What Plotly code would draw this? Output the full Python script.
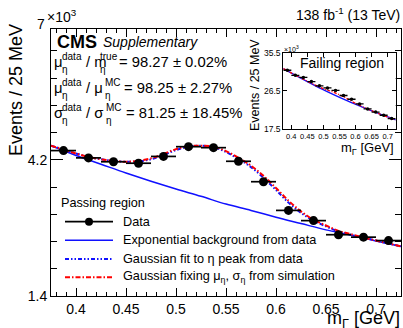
import plotly.graph_objects as go

# ---- data (event counts in units of 10^3 per 25 MeV bin) ----
bin_centers = [0.3875, 0.4125, 0.4375, 0.4625, 0.4875, 0.5125, 0.5375,
               0.5625, 0.5875, 0.6125, 0.6375, 0.6625, 0.6875, 0.7125]
half_width = [0.0125] * len(bin_centers)

passing_counts = [4.39, 4.24, 4.16, 4.13, 4.27, 4.47, 4.45,
                  4.17, 3.75, 3.16, 2.95, 2.66, 2.61, 2.54]
failing_counts = [31.4, 30.2, 29.7, 28.7, 27.7, 27.2, 26.6,
                  25.4, 24.5, 23.4, 22.2, 21.45, 20.7, 19.9]

# fitted curves, passing region
bkg_x = [0.375, 0.400, 0.425, 0.450, 0.475, 0.500, 0.525, 0.550,
         0.575, 0.600, 0.625, 0.650, 0.675, 0.700, 0.725]
bkg_y = [4.49, 4.29, 4.11, 3.93, 3.76, 3.60, 3.45, 3.29,
         3.16, 3.02, 2.89, 2.76, 2.65, 2.53, 2.42]

sig_x = [0.375, 0.3875, 0.400, 0.4125, 0.425, 0.4375, 0.450, 0.4625,
         0.475, 0.4875, 0.500, 0.5125, 0.525, 0.5375, 0.550, 0.5625,
         0.575, 0.5875, 0.600, 0.6125, 0.625, 0.6375, 0.650, 0.6625,
         0.675, 0.6875, 0.700, 0.7125, 0.725]
fit_free_y = [4.49, 4.41, 4.33, 4.26, 4.21, 4.18, 4.16, 4.17,
              4.21, 4.30, 4.40, 4.47, 4.49, 4.46, 4.36, 4.22,
              4.05, 3.83, 3.58, 3.32, 3.11, 2.95, 2.83, 2.73,
              2.66, 2.60, 2.54, 2.48, 2.42]
fit_fixed_y = [4.49, 4.41, 4.33, 4.26, 4.21, 4.18, 4.16, 4.18,
               4.23, 4.32, 4.42, 4.48, 4.49, 4.47, 4.38, 4.24,
               4.08, 3.87, 3.62, 3.36, 3.14, 2.97, 2.85, 2.74,
               2.67, 2.60, 2.54, 2.48, 2.42]

# fitted curves, failing region
fail_bkg_x = [0.375, 0.425, 0.475, 0.525, 0.575, 0.625, 0.675, 0.725]
fail_bkg_y = [31.8, 29.7, 27.7, 25.85, 24.1, 22.5, 21.0, 19.6]
fail_sig_x = [0.375, 0.425, 0.475, 0.500, 0.525, 0.550, 0.575, 0.600,
              0.625, 0.675, 0.725]
fail_sig_y = [31.8, 29.75, 27.85, 27.0, 26.35, 25.55, 24.6, 23.5,
              22.6, 21.0, 19.6]

x_ticks = [0.4, 0.45, 0.5, 0.55, 0.6, 0.65, 0.7]
y_ticks = [1.4, 4.2]
y_top_label = "7"
inset_x_ticks = [0.4, 0.45, 0.5, 0.55, 0.6, 0.65, 0.7]
inset_y_ticks = [17.5, 26.5, 35.5]

legend_title = "Passing region"
legend_names = ["Data", "Exponential background from data",
                "Gaussian fit to η peak from data",
                "Gaussian fixing μ<sub>η</sub>, σ<sub>η</sub> from simulation"]

# ---- geometry ----
W, H = 403, 328
ML, MR, MT, MB = 51, 2, 29, 32
PW, PH = W - ML - MR, H - MT - MB
FONT = "Liberation Sans, Arial, sans-serif"
BLUE = "#1010ff"
RED = "#ff0000"
DASH_FREE = "4px,2px,1.5px,2px,1.5px,2px"
DASH_FIXED = "5px,2px,1.5px,2px"


def px(x, y):
    """pixel position -> paper coordinates"""
    return (x - ML) / PW, (H - MB - y) / PH


fig = go.Figure()

# passing region
fig.add_trace(go.Scatter(x=bkg_x, y=bkg_y, mode="lines", line=dict(color=BLUE, width=1.5),
                         line_shape="spline", showlegend=False))
fig.add_trace(go.Scatter(x=sig_x, y=fit_free_y, mode="lines",
                         line=dict(color=BLUE, width=2, dash=DASH_FREE),
                         line_shape="spline", showlegend=False))
fig.add_trace(go.Scatter(x=sig_x, y=fit_fixed_y, mode="lines",
                         line=dict(color=RED, width=2, dash=DASH_FIXED),
                         line_shape="spline", showlegend=False))
fig.add_trace(go.Scatter(x=bin_centers, y=passing_counts, mode="markers",
                         marker=dict(color="black", size=9),
                         error_x=dict(type="data", array=half_width, color="black",
                                      thickness=1.7, width=0),
                         showlegend=False))

# failing region (inset)
fig.add_trace(go.Scatter(x=fail_bkg_x, y=fail_bkg_y, mode="lines", xaxis="x2", yaxis="y2",
                         line=dict(color=BLUE, width=1.3), line_shape="spline", showlegend=False))
fig.add_trace(go.Scatter(x=fail_sig_x, y=fail_sig_y, mode="lines", xaxis="x2", yaxis="y2",
                         line=dict(color=RED, width=1.3, dash="3px,1.5px,1px,1.5px"),
                         line_shape="spline", showlegend=False))
fig.add_trace(go.Scatter(x=bin_centers, y=failing_counts, mode="markers", xaxis="x2", yaxis="y2",
                         marker=dict(color="black", size=3.5),
                         error_x=dict(type="data", array=half_width, color="black",
                                      thickness=1.3, width=0),
                         showlegend=False))

axis_common = dict(showline=True, linecolor="black", linewidth=1, mirror="allticks",
                   ticks="inside", tickcolor="black", showgrid=False, zeroline=False,
                   tickangle=0, tickfont=dict(family=FONT, size=14, color="black"))
inset_common = dict(showline=True, linecolor="black", linewidth=1, mirror="allticks",
                    ticks="inside", tickcolor="black", ticklen=4, showgrid=False,
                    zeroline=False, tickangle=0)

ix0, iy0 = px(283.3, 128.7)
ix1, iy1 = px(395.7, 53)

fig.update_layout(
    width=W, height=H, margin=dict(l=ML, r=MR, t=MT, b=MB),
    paper_bgcolor="white", plot_bgcolor="white", showlegend=False,
    font=dict(family=FONT, color="black"),
    xaxis=dict(range=[0.375, 0.725], tickvals=x_ticks, ticktext=[f"{v:g}" for v in x_ticks],
               ticklen=8, minor=dict(tickmode="linear", tick0=0.37, dtick=0.01, ticklen=4,
                                     ticks="inside", tickcolor="black"),
               **axis_common),
    yaxis=dict(range=[1.4, 6.89], tickvals=y_ticks, ticktext=[f"{v:g}" for v in y_ticks],
               ticklen=12, minor=dict(tickmode="linear", tick0=1.4, dtick=0.56, ticklen=6,
                                      ticks="inside", tickcolor="black"),
               **axis_common),
    xaxis2=dict(domain=[ix0, ix1], anchor="y2", range=[0.375, 0.725],
                tickvals=inset_x_ticks, ticktext=[f"{v:g}" for v in inset_x_ticks],
                tickfont=dict(family=FONT, size=7.5, color="black"), **inset_common),
    yaxis2=dict(domain=[iy0, iy1], anchor="x2", range=[17.5, 35.5],
                tickvals=inset_y_ticks, ticktext=["17.5", "26.5", "35.5"],
                tickfont=dict(family=FONT, size=8.5, color="black"), **inset_common),
)

annotations = []
shapes = []


def text(x, y, s, size, anchor="left", angle=0, color="black"):
    xp, yp = px(x, y)
    annotations.append(dict(x=xp, y=yp, xref="paper", yref="paper", text=s, showarrow=False,
                            xanchor=anchor, yanchor="middle", textangle=angle,
                            font=dict(family=FONT, size=size, color=color)))


# axis titles and header
text(16, 90, "Events / 25 MeV", 18, "center", -90)
text(402, 319, "m<sub>Γ</sub> [GeV]", 18, "right")
text(47, 24, y_top_label, 14, "right")
text(45, 16, "×10<sup>3</sup>", 14)
text(402, 14, "138 fb<sup>-1</sup> (13 TeV)", 14, "right")
text(55, 42, "<b>CMS</b>", 18)
text(101, 42, "<i>Supplementary</i>", 14)

# fit result lines with stacked super/subscripts
result_lines = [
    (62, "μ", "/ m", "true", "= 98.27 ± 0.02%", 98, 117),
    (88, "μ", "/ μ", "MC", "= 98.25 ± 2.27%", 103, 122),
    (113, "σ", "/ σ", "MC", "= 81.25 ± 18.45%", 104, 124),
]
for y, sym, div, sup2, val, x2, x3 in result_lines:
    text(52, y, sym, 14.8)
    text(60, y - 6, "data", 10)
    text(60, y + 7, "η", 10)
    text(84, y, div, 14.8)
    text(x2, y - 6, sup2, 10)
    text(x2, y + 7, "η", 10)
    text(x3, y, val, 14.8)

# legend (passing region)
text(59, 203, legend_title, 12.7)
legend_rows = [221.7, 240.3, 259.0, 277.3]
legend_styles = [dict(color="black", width=1.7), dict(color=BLUE, width=1.5),
                 dict(color=BLUE, width=2, dash=DASH_FREE), dict(color=RED, width=2, dash=DASH_FIXED)]
for ry, name, style in zip(legend_rows, legend_names, legend_styles):
    x0, y0 = px(65, ry)
    x1, _ = px(113, ry)
    shapes.append(dict(type="line", xref="paper", yref="paper", x0=x0, x1=x1, y0=y0, y1=y0,
                       line=style))
    text(121, ry, name, 12.7)
cx0, cy0 = px(85, 217.7)
cx1, cy1 = px(93, 225.7)
shapes.append(dict(type="circle", xref="paper", yref="paper", x0=cx0, x1=cx1, y0=cy1, y1=cy0,
                   fillcolor="black", line=dict(color="black", width=0)))

# inset labels
text(342, 63, "Failing region", 14, "center")
text(255, 85, "Events / 25 MeV", 12.5, "center", -90)
text(396, 148, "m<sub>Γ</sub> [GeV]", 13, "right")
text(282, 49, "×10<sup>3</sup>", 7)

fig.update_layout(annotations=annotations, shapes=shapes)

fig.write_html("out.html")
